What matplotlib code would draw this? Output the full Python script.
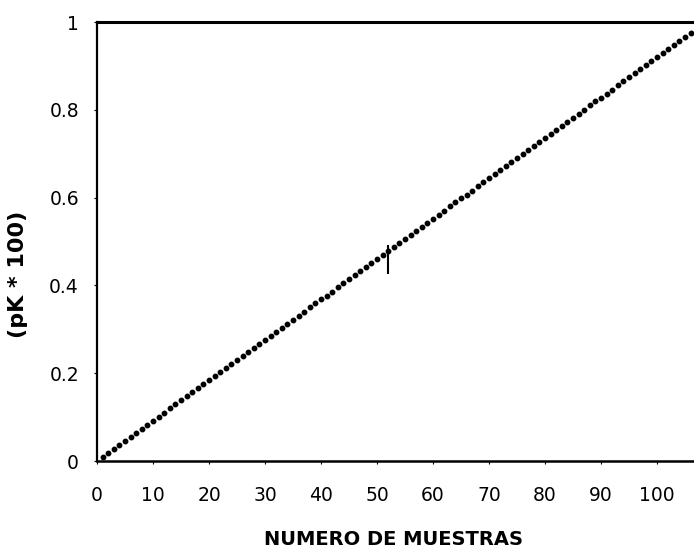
import matplotlib
matplotlib.use("Agg")
import matplotlib.pyplot as plt

# numero de muestra y valor acumulado (pK * 100)
muestras = list(range(1, 107))
pk = [
    0.009, 0.018, 0.027, 0.037, 0.046, 0.055, 0.064, 0.074, 0.083, 0.092,
    0.101, 0.110, 0.120, 0.129, 0.138, 0.147, 0.157, 0.166, 0.175, 0.184,
    0.193, 0.202, 0.212, 0.221, 0.230, 0.239, 0.249, 0.258, 0.267, 0.276,
    0.285, 0.294, 0.304, 0.313, 0.322, 0.331, 0.340, 0.350, 0.359, 0.368,
    0.377, 0.386, 0.396, 0.405, 0.414, 0.423, 0.432, 0.442, 0.451, 0.460,
    0.469, 0.478, 0.488, 0.497, 0.506, 0.515, 0.524, 0.534, 0.543, 0.552,
    0.561, 0.570, 0.580, 0.589, 0.598, 0.607, 0.616, 0.626, 0.635, 0.644,
    0.653, 0.662, 0.672, 0.681, 0.690, 0.699, 0.708, 0.718, 0.727, 0.736,
    0.745, 0.754, 0.764, 0.773, 0.782, 0.791, 0.800, 0.810, 0.819, 0.828,
    0.837, 0.846, 0.856, 0.865, 0.874, 0.883, 0.892, 0.902, 0.911, 0.920,
    0.929, 0.938, 0.948, 0.957, 0.966, 0.975,
]
marca_x = 52
marca_y = (0.427, 0.491)

xticks = [0, 10, 20, 30, 40, 50, 60, 70, 80, 90, 100]
yticks = [0, 0.2, 0.4, 0.6, 0.8, 1]
ytick_labels = ["0", "0.2", "0.4", "0.6", "0.8", "1"]

fig = plt.figure(figsize=(6.94, 5.5), dpi=100)
ax = fig.add_axes([0.1398, 0.1618, 0.8602, 0.7982])

ax.plot(muestras, pk, linestyle="none", marker="o", markersize=3.2,
        color="black", clip_on=False)
ax.vlines(marca_x, marca_y[0], marca_y[1], color="black", linewidth=1.5)

ax.set_xlim(0, 106.6)
ax.set_ylim(0, 1)
ax.set_xticks(xticks)
ax.set_yticks(yticks)
ax.set_yticklabels(ytick_labels)
ax.tick_params(axis="both", length=2, width=0.8, labelsize=13.5)
ax.tick_params(axis="x", pad=16)
ax.tick_params(axis="y", pad=11)

ax.spines["right"].set_visible(False)
ax.spines["left"].set_linewidth(1.6)
ax.spines["bottom"].set_linewidth(1.8)
ax.spines["top"].set_linewidth(2.2)

ax.set_xlabel("NUMERO DE MUESTRAS", fontsize=14, fontweight="bold")
ax.xaxis.set_label_coords(0.497, -0.157)
ax.set_ylabel("(pK * 100)", fontsize=16, fontweight="bold")
ax.yaxis.set_label_coords(-0.116, 0.424)

fig.savefig("out.png", dpi=100)
